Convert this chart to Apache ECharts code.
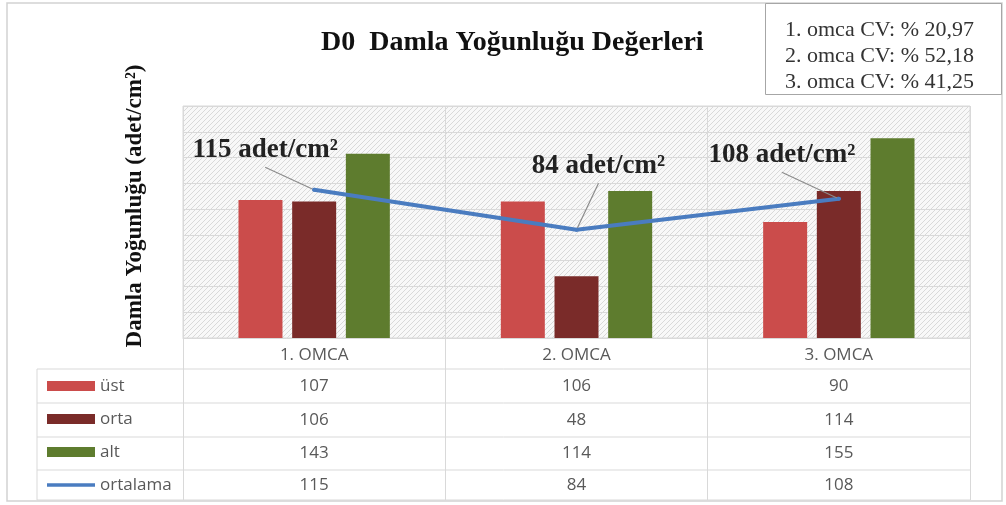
<!DOCTYPE html>
<html>
<head>
<meta charset="utf-8">
<script src="https://cdn.jsdelivr.net/npm/echarts@6/dist/echarts.min.js"></script>
<style>
  html, body { margin: 0; padding: 0; background: #fff; }
  #main { width: 1006px; height: 505px; }
</style>
</head>
<body>
<div id="main"></div>
<script>
var categories = ['1. OMCA', '2. OMCA', '3. OMCA'];
var ust = [107, 106, 90];
var orta = [106, 48, 114];
var alt = [143, 114, 155];
var ortalama = [115, 84, 108];
var seriesNames = ['üst', 'orta', 'alt', 'ortalama'];
var cvLines = ['1. omca CV: % 20,97', '2. omca CV: % 52,18', '3. omca CV: % 41,25'];
var yMin = 0, yMax = 180, yStep = 20;

// label offsets for the "adet/cm²" callouts (pixels, layout only)
var calloutDx = [-49, 22, -57];
var calloutDy = [-40, -64, -44];

var tableRows = [ust, orta, alt, ortalama];
var rowOffsets = [48, 82, 115, 147];

var chartDom = document.getElementById('main');
var myChart = echarts.init(chartDom);
var option;

// light hatch for the plot area
var pat = document.createElement('canvas');
pat.width = 5; pat.height = 5;
var ctx = pat.getContext('2d');
ctx.fillStyle = '#f8f8f8';
ctx.fillRect(0, 0, 5, 5);
ctx.strokeStyle = '#d9d9d9';
ctx.lineWidth = 1;
ctx.beginPath();
ctx.moveTo(0, 5); ctx.lineTo(5, 0);
ctx.moveTo(-1, 1); ctx.lineTo(1, -1);
ctx.moveTo(4, 6); ctx.lineTo(6, 4);
ctx.stroke();

var tableFont = { fontFamily: 'Open Sans', fontSize: 17, color: '#595959' };
var lineColor = '#d9d9d9';

var xAxes = [{
    type: 'category',
    data: categories,
    position: 'bottom',
    axisLine: { show: true, lineStyle: { color: lineColor } },
    axisTick: { show: true, length: 162, alignWithLabel: false, lineStyle: { color: lineColor } },
    axisLabel: Object.assign({ margin: 17, verticalAlign: 'middle' }, tableFont),
    splitLine: { show: true, lineStyle: { color: lineColor } }
}];
tableRows.forEach(function (row, i) {
    xAxes.push({
        type: 'category',
        data: row.map(String),
        position: 'bottom',
        offset: rowOffsets[i],
        axisLine: { show: false },
        axisTick: { show: false },
        splitLine: { show: false },
        axisLabel: Object.assign({ margin: 0, verticalAlign: 'middle', interval: 0 }, tableFont)
    });
});

var hLines = [369, 403, 437, 470, 500].map(function (y) {
    return { type: 'line', shape: { x1: 37, y1: y, x2: 970, y2: y }, style: { stroke: lineColor, lineWidth: 1 } };
});

option = {
    animation: false,
    title: [{
        text: 'D0  Damla Yoğunluğu Değerleri',
        left: 316,
        top: 24,
        textStyle: { fontFamily: 'Liberation Serif', fontWeight: 'bold', fontSize: 28, lineHeight: 28, color: '#111' }
    }, {
        text: cvLines.join('\n'),
        left: 765,
        top: 3,
        padding: [14, 28, 0, 20],
        backgroundColor: '#fff',
        borderColor: '#a6a6a6',
        borderWidth: 1,
        textStyle: { fontFamily: 'Liberation Serif', fontWeight: 'normal', fontSize: 22, lineHeight: 26, color: '#333' }
    }],
    legend: {
        orient: 'vertical',
        left: 47,
        top: 376,
        padding: 0,
        itemGap: 13,
        itemWidth: 48,
        itemHeight: 10,
        selectedMode: false,
        textStyle: Object.assign({ lineHeight: 20, padding: [0, 0, 0, 0] }, tableFont),
        data: [
            { name: seriesNames[0], icon: 'rect' },
            { name: seriesNames[1], icon: 'rect' },
            { name: seriesNames[2], icon: 'rect' },
            { name: seriesNames[3], icon: 'path://M0,0h48v3.5h-48z' }
        ]
    },
    grid: {
        left: 183,
        right: 36,
        top: 106,
        bottom: 167,
        outerBoundsMode: 'none',
        show: true,
        backgroundColor: { image: pat, repeat: 'repeat' },
        borderColor: lineColor,
        borderWidth: 1
    },
    xAxis: xAxes,
    yAxis: {
        type: 'value',
        min: yMin,
        max: yMax,
        interval: yStep,
        name: 'Damla Yoğunluğu (adet/cm²)',
        nameLocation: 'middle',
        nameRotate: 90,
        nameGap: 36,
        nameTextStyle: { fontFamily: 'Liberation Serif', fontWeight: 'bold', fontSize: 23, color: '#111', padding: [0, 0, 0, 32] },
        axisLine: { show: false },
        axisTick: { show: false },
        axisLabel: { show: false },
        splitLine: { show: true, lineStyle: { color: lineColor } }
    },
    graphic: [{
        type: 'rect',
        shape: { x: 7, y: 3, width: 995, height: 498 },
        style: { fill: null, stroke: '#d2d2d2', lineWidth: 1.5 },
        z: -10
    }, {
        type: 'line',
        shape: { x1: 37, y1: 369, x2: 37, y2: 500 },
        style: { stroke: lineColor, lineWidth: 1 }
    }].concat(hLines),
    series: [{
        name: seriesNames[0],
        type: 'bar',
        data: ust,
        barWidth: 44,
        barGap: '22%',
        itemStyle: { color: '#cb4c4b' }
    }, {
        name: seriesNames[1],
        type: 'bar',
        data: orta,
        barWidth: 44,
        barGap: '22%',
        itemStyle: { color: '#7a2b29' }
    }, {
        name: seriesNames[2],
        type: 'bar',
        data: alt,
        barWidth: 44,
        barGap: '22%',
        itemStyle: { color: '#5e7c2e' }
    }, {
        name: seriesNames[3],
        type: 'line',
        data: ortalama,
        symbol: 'circle',
        symbolSize: 4,
        showSymbol: true,
        itemStyle: { color: '#4a7cc0' },
        lineStyle: { color: '#4a7cc0', width: 4, cap: 'round', join: 'round' },
        label: {
            show: true,
            position: 'inside',
            formatter: '{c} adet/cm²',
            fontFamily: 'Liberation Serif',
            fontWeight: 'bold',
            fontSize: 27,
            color: '#222',
            backgroundColor: 'rgba(255,255,255,0)',
            padding: [0, 50, 8, 50]
        },
        labelLine: { show: true, lineStyle: { color: '#8c8c8c', width: 1.2 } },
        labelLayout: function (p) {
            return { dx: calloutDx[p.dataIndex], dy: calloutDy[p.dataIndex] };
        },
        z: 5
    }]
};

option && myChart.setOption(option);
</script>
</body>
</html>
